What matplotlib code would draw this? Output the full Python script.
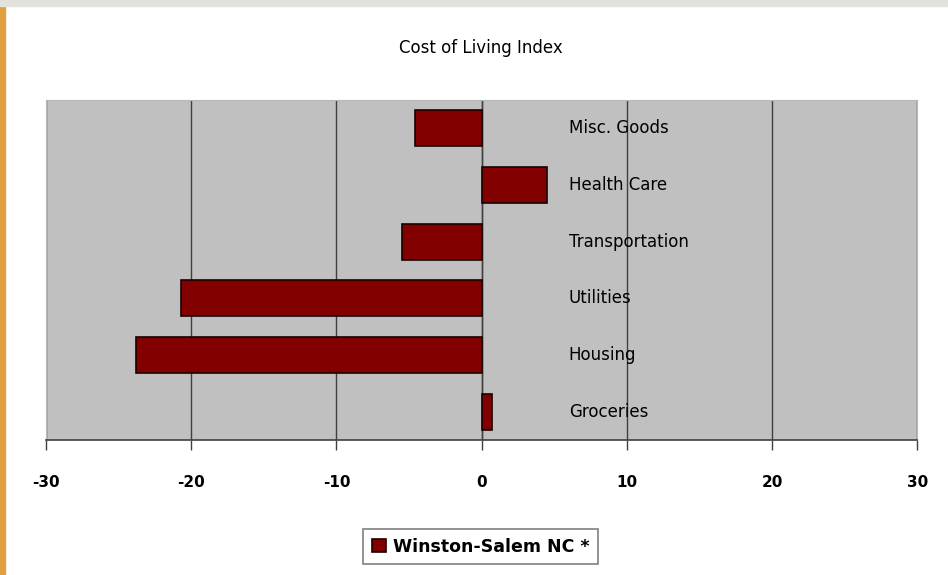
import matplotlib
matplotlib.use("Agg")
import matplotlib.pyplot as plt
from matplotlib.patches import Rectangle

categories = ["Groceries", "Housing", "Utilities", "Transportation", "Health Care", "Misc. Goods"]
values = [0.7, -23.8, -20.7, -5.5, 4.5, -4.6]
x_ticks = [-30, -20, -10, 0, 10, 20, 30]
series_name = "Winston-Salem NC *"
title = "Cost of Living Index"

fig = plt.figure(figsize=(9.48, 5.75), dpi=100)
fig.patch.set_facecolor("white")
# decorative edges from the screenshot
fig.add_artist(Rectangle((0, 0), 0.005, 1, transform=fig.transFigure, color="#e0a040", zorder=0))
fig.add_artist(Rectangle((0, 0.99), 1, 0.01, transform=fig.transFigure, color="#e2e2dc", zorder=0))

ax = fig.add_axes([0.0485, 0.2348, 0.919, 0.5913])
ax.set_facecolor("#c0c0c0")
ypos = list(range(len(categories)))
ax.barh(ypos, values, height=0.63, color="#820000", edgecolor="#1a0000", linewidth=1.2, zorder=3,
        label=series_name)
ax.set_xlim(-30, 30)
ax.set_ylim(-0.5, len(categories) - 0.5)
ax.set_xticks(x_ticks)
ax.set_xticklabels([str(t) for t in x_ticks], fontsize=11, fontweight="bold", family="DejaVu Sans")
ax.tick_params(axis="x", length=7, width=1, color="#404040", pad=18, direction="out")
ax.set_yticks([])
ax.grid(axis="x", color="#404040", linewidth=1, zorder=1)
ax.axvline(0, color="#404040", linewidth=1, zorder=2)
for s in ["top", "right", "left"]:
    ax.spines[s].set_color("#b8b8b8")
ax.spines["bottom"].set_color("#404040")
ax.spines["bottom"].set_linewidth(1.2)

for y, c in zip(ypos, categories):
    ax.text(6.0, y, c, ha="left", va="center", fontsize=12, zorder=4, family="DejaVu Sans")

fig.text(0.507, 0.917, title, ha="center", va="center", fontsize=12, family="DejaVu Sans")

leg = fig.legend(loc="center", bbox_to_anchor=(0.507, 0.0495), frameon=True, fancybox=False,
                 handlelength=0.8, handleheight=0.8, handletextpad=0.4, borderpad=0.5,
                 prop={"size": 12.5, "weight": "bold"})
leg.get_frame().set_edgecolor("#606060")
leg.get_frame().set_linewidth(1.2)

fig.savefig("out.png", dpi=100)
